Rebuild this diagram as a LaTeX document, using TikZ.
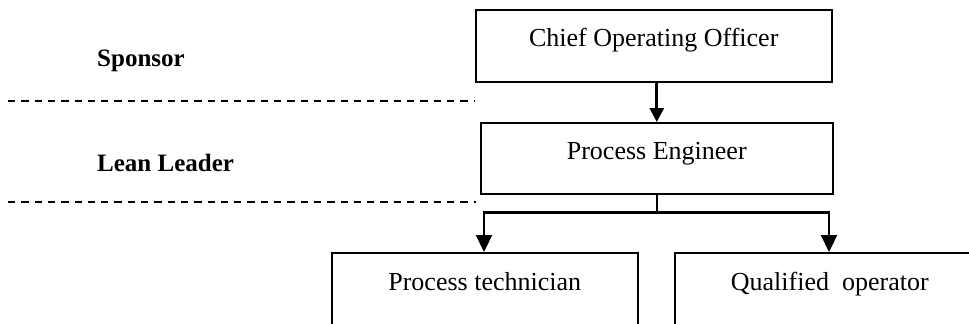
\documentclass[tikz,border=0pt]{standalone}
\usepackage{fontspec}
\setmainfont{Liberation Serif}
\usetikzlibrary{arrows.meta}
\tikzset{
  box/.style={draw, line width=1.5bp, rectangle, inner sep=0pt, anchor=north west,
    font=\fontsize{26bp}{30bp}\selectfont},
  role/.style={font=\fontsize{25bp}{30bp}\selectfont\bfseries, anchor=base west, inner sep=0pt},
  divider/.style={line width=1.3bp, dash pattern=on 7.3bp off 6bp},
  arr/.style={line width=3bp, -{Triangle[length=14bp,width=14bp]}},
  branch/.style={line width=2.2bp, -{Triangle[length=17bp,width=16bp]}},
  link/.style={line width=2bp},
}
\begin{document}
\begin{tikzpicture}[x=1bp,y=-1bp]
\useasboundingbox (0,0) rectangle (969,323);

% boxes
\node[box, minimum width=356bp, text height=37bp, text depth=35bp] (coo) at (475,9) {Chief Operating Officer};
\node[box, minimum width=352bp, text height=37bp, text depth=34bp] (pe) at (480,122) {Process Engineer};
\node[box, minimum width=306bp, text height=38bp, text depth=60bp] (pt) at (331,252) {Process technician};
\node[box, minimum width=310bp, text height=38bp, text depth=60bp] (qo) at (674,252) {Qualified~ operator};

% role labels
\node[role] (sp) at (97,66) {Sponsor};
\node[role] (ll) at (97,171) {Lean Leader};

% dashed dividers
\coordinate (d1a) at (8,101);  \coordinate (d1b) at (475,101);
\coordinate (d2a) at (8,202);  \coordinate (d2b) at (476,202);
\draw[divider] (d1a) -- (d1b);
\draw[divider] (d2a) -- (d2b);

% connectors
\draw[arr] (pe.north |- coo.south) -- (pe.north);
\path (pe.south) ++(0,18) coordinate (j);
\coordinate (jl) at (484,211);
\coordinate (jr) at (829,211);
\draw[link] (pe.south) -- (j);
\draw[branch] (j) -| (jl |- pt.north);
\draw[branch] (j) -| (jr |- qo.north);
\end{tikzpicture}
\end{document}
